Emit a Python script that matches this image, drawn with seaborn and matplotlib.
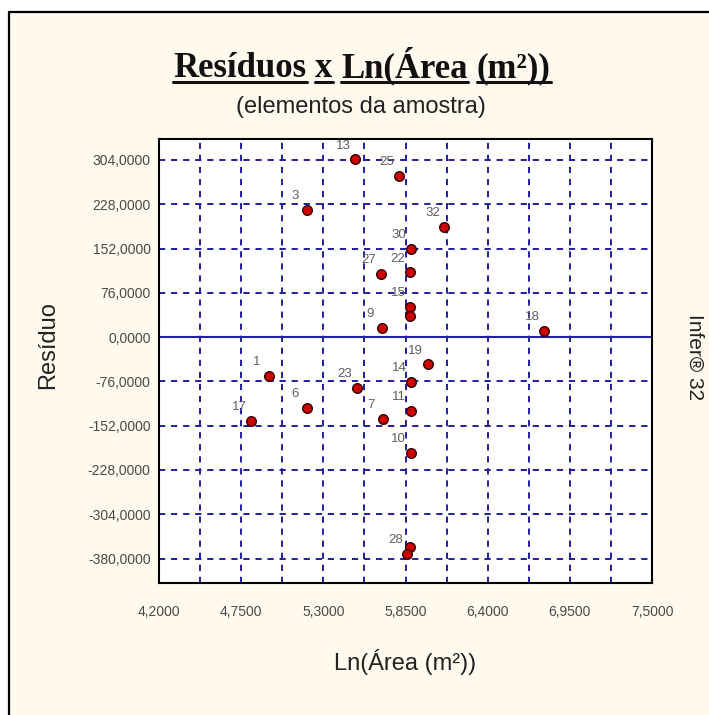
import numpy as np
import pandas as pd
import matplotlib
matplotlib.use("Agg")
import matplotlib.pyplot as plt
import seaborn as sns
from matplotlib.ticker import FixedLocator, FuncFormatter
from matplotlib.patches import Rectangle
from matplotlib.lines import Line2D

# ---------------- data ----------------
labels = ['13', '25', '3', '32', '30', '27', '22', '15', '', '9', '18',
          '19', '1', '14', '23', '6', '7', '11', '17', '10', '', '28']
ln_area = [5.513, 5.806, 5.190, 6.110, 5.886, 5.686, 5.880, 5.882, 5.880, 5.695, 6.780,
           5.998, 4.936, 5.886, 5.523, 5.190, 5.700, 5.884, 4.817, 5.884, 5.878, 5.862]
residuo = [305, 277, 218, 189, 152, 109, 111, 52, 36, 16, 11,
           -47, -67, -77, -88, -121, -141, -127, -144, -199, -361, -372]
x_ticks = [4.2, 4.75, 5.3, 5.85, 6.4, 6.95, 7.5]
y_ticks = [-380, -304, -228, -152, -76, 0, 76, 152, 228, 304]

title_words = ['Resíduos', 'x', 'Ln(Área', '(m²))']
subtitle = '(elementos da amostra)'
x_label = 'Ln(Área (m²))'
y_label = 'Resíduo'
side_text = 'Infer® 32'

# ---------------- style ----------------
sns.set_style('white')
plt.rcParams['font.family'] = ['Liberation Sans', 'DejaVu Sans']

W, H = 709, 715
fig = plt.figure(figsize=(W / 100, H / 100), dpi=100, facecolor='white')

# cream panel with black top/left frame
fig.patches.append(Rectangle((9 / W, 0), 1, 1 - 12 / H, transform=fig.transFigure,
                             facecolor='#FFF9EE', edgecolor='none', zorder=-5))
fig.add_artist(Line2D([9 / W, 9 / W], [0, 1 - 12 / H], color='black', lw=1.6,
                      transform=fig.transFigure))
fig.add_artist(Line2D([9 / W, 1], [1 - 12 / H, 1 - 12 / H], color='black', lw=1.6,
                      transform=fig.transFigure))

ax = fig.add_axes([159 / W, 1 - 583 / H, (652 - 159) / W, (583 - 139) / H])
ax.set_facecolor('white')

df = pd.DataFrame({'x': ln_area, 'y': residuo, 'label': labels})

grid_col = '#1f1f9e'
dash = (0, (3.2, 3.0))

ax.set_xlim(4.2, 7.5)
ax.set_ylim(-422, 340)
ax.xaxis.set_major_locator(FixedLocator(x_ticks))
minor_x = [(a + b) / 2 for a, b in zip(x_ticks[:-1], x_ticks[1:])]
ax.xaxis.set_minor_locator(FixedLocator(minor_x))
ax.yaxis.set_major_locator(FixedLocator(y_ticks))
fmt = FuncFormatter(lambda v, p: f"{v:.4f}".replace('.', ','))
ax.xaxis.set_major_formatter(fmt)
ax.yaxis.set_major_formatter(fmt)

ax.grid(True, axis='x', which='both', color=grid_col, lw=1.4, linestyle=dash)
ax.grid(True, axis='y', which='major', color=grid_col, lw=1.4, linestyle=dash)
ax.set_axisbelow(True)
ax.axhline(0, color='#2323a8', lw=1.5, zorder=2)

sns.scatterplot(data=df, x='x', y='y', ax=ax, color='#cc0000', edgecolor='#300000',
                linewidth=1.0, s=48, zorder=5, legend=False)

for _, row in df.iterrows():
    if row['label']:
        ax.annotate(row['label'], (row['x'], row['y']), xytext=(-8.6, 10.0),
                    textcoords='offset points', ha='center', va='center',
                    fontsize=9.5, color='#5f5f5f', zorder=6)

ax.tick_params(axis='x', which='major', direction='in', length=6, width=1.3,
               color='black', pad=16, labelsize=10, labelcolor='#4a4a4a')
ax.tick_params(axis='x', which='minor', length=0)
ax.tick_params(axis='y', which='major', direction='out', length=3, width=1.0,
               color='black', pad=3, labelsize=10, labelcolor='#4a4a4a')
for s in ax.spines.values():
    s.set_color('black')
    s.set_linewidth(1.5)
ax.set_xlabel('')
ax.set_ylabel('')

# axis titles
fig.text(405 / W, 1 - 662 / H, x_label, ha='center', va='center', fontsize=17, color='#222222')
fig.text(48 / W, 1 - 345 / H, y_label, ha='center', va='center', rotation=90,
         fontsize=17, color='#222222')
fig.text(695 / W, 1 - 357 / H, side_text, ha='center', va='center', rotation=270,
         fontsize=15, color='#222222')
fig.text(361 / W, 1 - 107 / H, subtitle, ha='center', va='center', fontsize=17, color='#222222')

# underlined serif bold title, word by word
fig.canvas.draw()
rend = fig.canvas.get_renderer()
tprops = dict(family=['Liberation Serif', 'DejaVu Serif'], weight='bold', size=25, color='#111111')


def text_width(s):
    t = fig.text(0, 0, s, **tprops)
    w = t.get_window_extent(rend).width
    t.remove()
    return w


space_w = text_width('a a') - text_width('aa')
widths = [text_width(w) for w in title_words]
total = sum(widths) + space_w * (len(title_words) - 1)
x0 = 362 - total / 2
base_px = H - 77
for word, wd in zip(title_words, widths):
    fig.text(x0 / W, base_px / H, word, ha='left', va='baseline', **tprops)
    fig.add_artist(Line2D([x0 / W, (x0 + wd) / W], [(base_px - 5) / H] * 2,
                          color='#111111', lw=2.2, transform=fig.transFigure))
    x0 += wd + space_w

fig.savefig('out.png', dpi=100, facecolor=fig.get_facecolor())
